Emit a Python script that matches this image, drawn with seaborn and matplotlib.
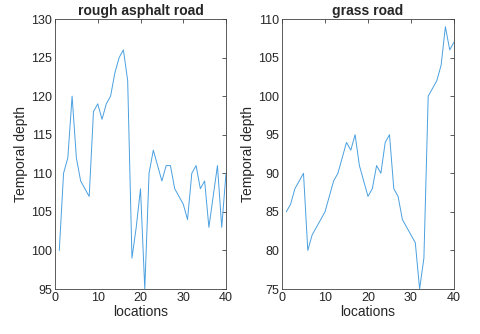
import numpy as np
import pandas as pd
import seaborn as sns
import matplotlib
matplotlib.use('Agg')
import matplotlib.pyplot as plt

locations = list(range(1, 41))
asphalt = [100, 110, 112, 120, 112, 109, 108, 107, 118, 119,
           117, 119, 120, 123, 125, 126, 122, 99, 103, 108,
           95, 110, 113, 111, 109, 111, 111, 108, 107, 106,
           104, 110, 111, 108, 109, 103, 107, 111, 103, 110]
grass = [85, 86, 88, 89, 90, 80, 82, 83, 84, 85,
         87, 89, 90, 92, 94, 93, 95, 91, 89, 87,
         88, 91, 90, 94, 95, 88, 87, 84, 83, 82,
         81, 75, 79, 100, 101, 102, 104, 109, 106, 107]

titles = ['rough asphalt road', 'grass road']
ylims = [(95, 130), (75, 110)]

sns.set_style('white')
plt.rcParams['font.family'] = ['Liberation Sans', 'DejaVu Sans']

fig = plt.figure(figsize=(4.8, 3.34), dpi=100)
ax1 = fig.add_axes([55 / 480, 1 - 289 / 334, 171 / 480, 270 / 334])
ax2 = fig.add_axes([282 / 480, 1 - 289 / 334, 172 / 480, 270 / 334])

for ax, vals, title, ylim in zip([ax1, ax2], [asphalt, grass], titles, ylims):
    df = pd.DataFrame({'locations': locations, 'depth': vals})
    sns.lineplot(data=df, x='locations', y='depth', ax=ax, color='#4aa0e0', linewidth=0.7)
    ax.set_xlim(0, 40)
    ax.set_ylim(*ylim)
    ax.set_xticks(np.arange(0, 41, 10))
    ax.set_yticks(np.arange(ylim[0], ylim[1] + 1, 5))
    ax.set_title(title, fontsize=10, fontweight='bold', pad=3)
    ax.set_xlabel('locations', fontsize=10, labelpad=1)
    ax.set_ylabel('Temporal depth', fontsize=10, labelpad=2)
    ax.tick_params(direction='in', length=3, width=0.6, labelsize=9,
                   top=True, right=True, color='#404040', labelcolor='#262626', pad=2)
    for s in ax.spines.values():
        s.set_color('#404040')
        s.set_linewidth(0.6)

fig.savefig('out.png', dpi=100)
